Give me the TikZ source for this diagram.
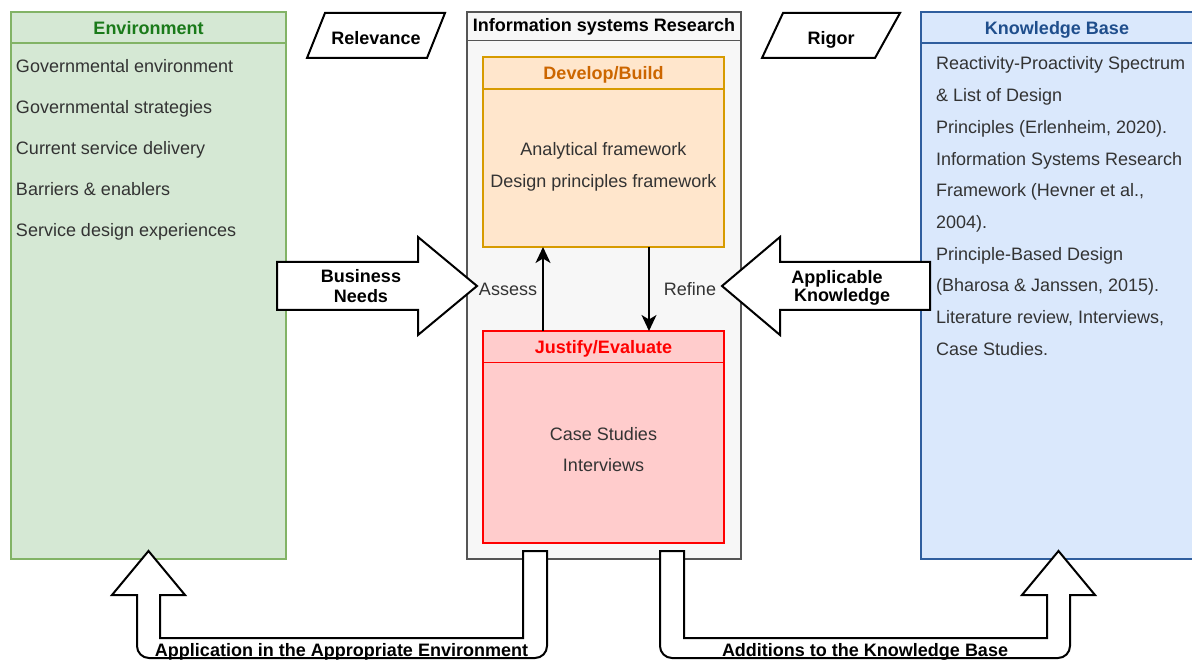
\documentclass[tikz,border=0pt]{standalone}
\usepackage{fontspec}
\setmainfont{Liberation Sans}
\usetikzlibrary{arrows.meta}
\definecolor{envfill}{HTML}{D5E8D4}
\definecolor{envline}{HTML}{82B366}
\definecolor{envtitle}{HTML}{1A7A1A}
\definecolor{kbfill}{HTML}{DAE8FC}
\definecolor{kbline}{HTML}{2F5E9E}
\definecolor{kbtitle}{HTML}{1F4E8C}
\definecolor{isfill}{HTML}{F7F7F7}
\definecolor{isline}{HTML}{555555}
\definecolor{devfill}{HTML}{FFE6CC}
\definecolor{devline}{HTML}{D79B00}
\definecolor{devtitle}{HTML}{CC6600}
\definecolor{jusfill}{HTML}{FFCCCC}
\definecolor{jusline}{HTML}{FF0000}
\definecolor{txt}{HTML}{333333}
\begin{document}
\begin{tikzpicture}[x=1pt,y=-1pt,
  every node/.style={inner sep=0pt, outer sep=0pt},
  bodytext/.style={font=\fontsize{18}{20}\selectfont, text=txt},
  ttl/.style={font=\fontsize{18}{20}\selectfont\bfseries},
  bigbox/.style={line width=1.8pt},
  innerbox/.style={line width=1.8pt},
  blockarrow/.style={draw=black, line width=2pt, fill=white, line join=miter},
  para/.style={draw=black, line width=2pt, fill=white},
  flow/.style={draw=black, line width=1.8pt, -{Stealth[length=16pt,width=15pt,inset=4.5pt]}}
]
\clip (0,0) rectangle (1192,660);
\fill[white] (0,0) rectangle (1192,660);

% Environment
\node[bigbox, draw=envline, fill=envfill, minimum width=275pt, minimum height=547pt] (env) at (148.5,285.5) {};
\draw[envline, line width=1.8pt] ([yshift=-31pt]env.north west) -- ([yshift=-31pt]env.north east);
\node[ttl, text=envtitle, anchor=base] (envt) at (148.5,35) {Environment};
\foreach \t [count=\i] in {Governmental environment, Governmental strategies, Current service delivery, Barriers \& enablers, Service design experiences}
  \node[bodytext, anchor=base west] (envi\i) at (16,{73+41*(\i-1)}) {\t};

% Knowledge Base
\node[bigbox, draw=kbline, fill=kbfill, minimum width=289pt, minimum height=547pt] (kb) at (1065.5,285.5) {};
\draw[kbline, line width=1.8pt] ([yshift=-31pt]kb.north west) -- ([yshift=-31pt]kb.north east);
\node[ttl, text=kbtitle, anchor=base] (kbt) at (1057,35) {Knowledge Base};
\foreach \t [count=\i] in {Reactivity-Proactivity Spectrum, \& List of Design, {Principles (Erlenheim, 2020).}, Information Systems Research, {Framework (Hevner et al.,}, 2004)., Principle-Based Design, {(Bharosa \& Janssen, 2015).}, {Literature review, Interviews,}, Case Studies.}
  \node[bodytext, anchor=base west] (kbi\i) at (936,{70+31.67*(\i-1)}) {\t};

% IS research
\node[bigbox, draw=isline, fill=isfill, minimum width=274pt, minimum height=547pt] (is) at (604,285.5) {};
\draw[isline, line width=1.8pt] ([yshift=-28.5pt]is.north west) -- ([yshift=-28.5pt]is.north east);
\node[ttl, text=black, anchor=base] (ist) at (604,31.7) {Information systems Research};

% Develop/Build
\node[innerbox, draw=devline, fill=devfill, minimum width=241pt, minimum height=190pt] (dev) at (603.5,152) {};
\draw[devline, line width=1.8pt] ([yshift=-32pt]dev.north west) -- ([yshift=-32pt]dev.north east);
\node[ttl, text=devtitle, anchor=base] (devt) at (603.5,80) {Develop/Build};
\node[bodytext, anchor=base] (dev1) at (603.5,156) {Analytical framework};
\node[bodytext, anchor=base] (dev2) at (603.5,187.3) {Design principles framework};

% Justify/Evaluate
\node[innerbox, draw=jusline, fill=jusfill, minimum width=241pt, minimum height=212pt] (jus) at (603.5,437) {};
\draw[jusline, line width=1.8pt] ([yshift=-31.5pt]jus.north west) -- ([yshift=-31.5pt]jus.north east);
\node[ttl, text=jusline, anchor=base] (just) at (603.5,353.3) {Justify/Evaluate};
\node[bodytext, anchor=base] (jus1) at (603.5,440) {Case Studies};
\node[bodytext, anchor=base] (jus2) at (603.5,471.7) {Interviews};

% Assess / Refine
\draw[flow] ([xshift=60pt]jus.north west) -- ([xshift=60pt]dev.south west);
\draw[flow] ([xshift=166pt]dev.south west) -- ([xshift=166pt]jus.north west);
\node[bodytext, anchor=base] (assess) at (508,296) {Assess};
\node[bodytext, anchor=base] (refine) at (690,296) {Refine};

% Relevance / Rigor
\draw[para] (325,13) -- (445,13) -- (427,58) -- (307,58) -- cycle;
\node[ttl, anchor=base] (relev) at (376,44.3) {Relevance};
\draw[para] (783,13) -- (900,13) -- (875,58) -- (762,58) -- cycle;
\node[ttl, anchor=base] (rigor) at (831,44.3) {Rigor};

% Business needs arrow
\draw[blockarrow] (277,262) -- (418,262) -- (418,237) -- (477,286) -- (418,335) -- (418,310) -- (277,310) -- cycle;
\node[ttl, anchor=base] (bn1) at (361,282.7) {Business};
\node[ttl, anchor=base] (bn2) at (361,302.7) {Needs};

% Applicable knowledge arrow
\draw[blockarrow] (930,262) -- (780,262) -- (780,237) -- (722,286) -- (780,335) -- (780,310) -- (930,310) -- cycle;
\node[ttl, anchor=base] (ak1) at (837,283.3) {Applicable};
\node[ttl, anchor=base] (ak2) at (842,302) {Knowledge};

% Bottom left U-arrow
\draw[blockarrow] (523,551) -- (547,551) -- (547,646) .. controls (547,652.6) and (541.6,658) .. (535,658)
  -- (149,658) .. controls (142.4,658) and (137,652.6) .. (137,646)
  -- (137,595) -- (112,595) -- (148.5,551) -- (185,595) -- (160,595) -- (160,638) -- (523,638) -- cycle;
\node[ttl, anchor=base] (appl) at (341.5,656.7) {Application in the Appropriate Environment};

% Bottom right U-arrow
\draw[blockarrow] (684,551) -- (660,551) -- (660,646) .. controls (660,652.6) and (665.4,658) .. (672,658)
  -- (1058,658) .. controls (1064.6,658) and (1070,652.6) .. (1070,646)
  -- (1070,595) -- (1095,595) -- (1058.5,551) -- (1022,595) -- (1047,595) -- (1047,638) -- (684,638) -- cycle;
\node[ttl, anchor=base] (addk) at (865,656.7) {Additions to the Knowledge Base};
\end{tikzpicture}
\end{document}
